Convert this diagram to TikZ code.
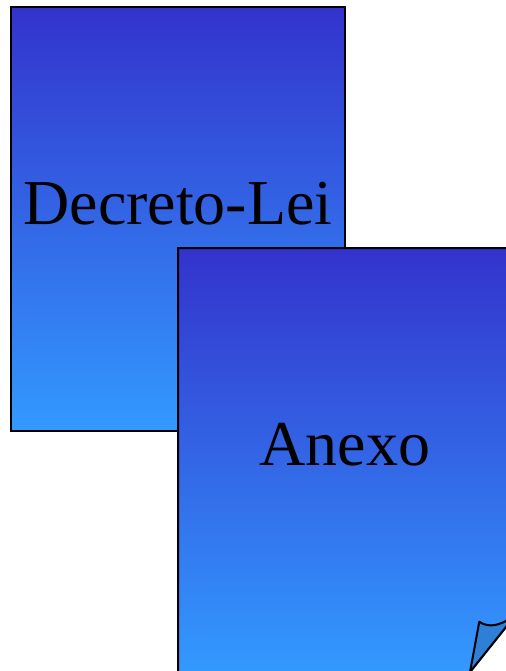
\documentclass[tikz,border=0pt]{standalone}
\usepackage{xcolor}
\usepackage{tikz}
\usepackage{fontspec}
\setmainfont{Liberation Serif}
\definecolor{pagetop}{RGB}{51, 51, 204}
\definecolor{pagebottom}{RGB}{51, 153, 255}
\definecolor{flapblue}{RGB}{46, 128, 214}

\begin{document}
\begin{tikzpicture}[x=0.75pt,y=-0.75pt,line width=1.5pt,
    page/.style={draw=black, top color=pagetop, bottom color=pagebottom},
    label/.style={font=\fontsize{48}{56}\selectfont, inner sep=0pt}]
    \useasboundingbox (0,0) rectangle (506,671);
    \clip (0,0) rectangle (506,671);

    % first page
    \draw[page] (11,7) rectangle (345,431);
    \node[label, anchor=base] (decreto) at (178,224) {Decreto-Lei};

    % second page, corner cut off
    \draw[page] (178,248) -- (512,248) -- (512,619.5) -- (470,672) -- (178,672) -- cycle;
    \node[label, anchor=base] (anexo) at (345,465) {Anexo};

    % curled corner
    \draw[fill=flapblue, line join=round] (470,672) -- (479.3,621.7)
        .. controls (488,628) and (500,626) .. (512,617) -- (512,619.5) -- cycle;
\end{tikzpicture}
\end{document}
